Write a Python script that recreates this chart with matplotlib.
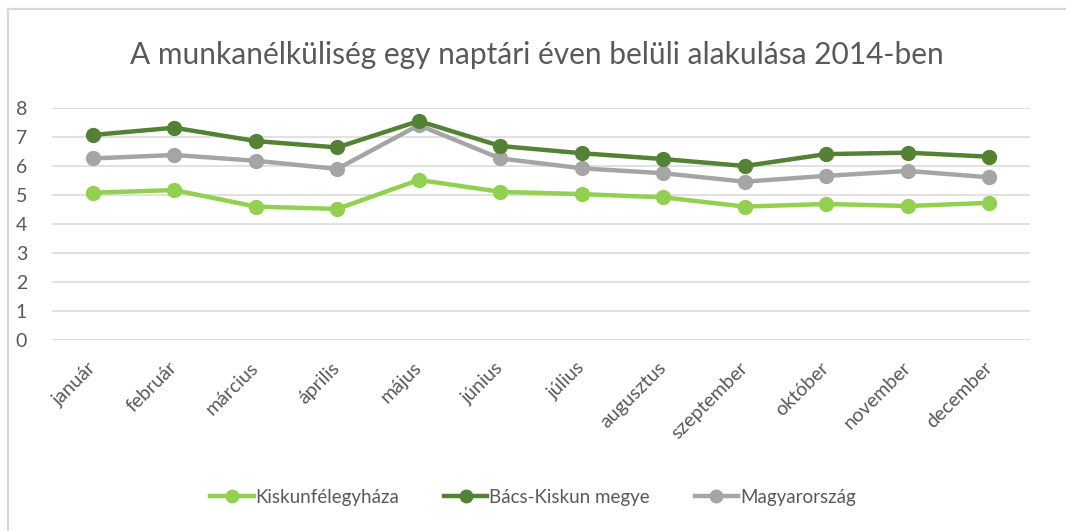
import matplotlib
matplotlib.use('Agg')
import matplotlib.pyplot as plt
from matplotlib.lines import Line2D

months = ['január', 'február', 'március', 'április', 'május', 'június',
          'július', 'augusztus', 'szeptember', 'október', 'november', 'december']
kiskunfelegyhaza = [5.08, 5.17, 4.60, 4.52, 5.52, 5.11, 5.03, 4.92, 4.60, 4.69, 4.62, 4.73]
bacs_kiskun = [7.07, 7.32, 6.86, 6.64, 7.55, 6.69, 6.44, 6.24, 6.00, 6.41, 6.46, 6.32]
magyarorszag = [6.26, 6.38, 6.18, 5.90, 7.41, 6.26, 5.92, 5.75, 5.46, 5.66, 5.83, 5.61]
yticks = [0, 1, 2, 3, 4, 5, 6, 7, 8]

LIGHT = '#92D050'
DARK = '#548235'
GRAY = '#A5A5A5'
TXT = '#595959'

plt.rcParams['font.family'] = ['Lato', 'DejaVu Sans']

W, H = 1066, 531
fig = plt.figure(figsize=(W / 100, H / 100), dpi=100)
ax = fig.add_axes([52 / W, 1 - 340 / H, (1030 - 52) / W, (340 - 108) / H])

x = list(range(len(months)))
series = [(kiskunfelegyhaza, LIGHT, 'Kiskunfélegyháza'),
          (bacs_kiskun, DARK, 'Bács-Kiskun megye'),
          (magyarorszag, GRAY, 'Magyarország')]
# draw gray first so the greens sit on top like the original
for vals, col, lab in [series[2], series[0], series[1]]:
    ax.plot(x, vals, color=col, lw=3.2, marker='o', ms=10, solid_capstyle='round', zorder=3)

ax.set_xlim(-0.5, len(months) - 0.5)
ax.set_ylim(0, 8)
ax.set_yticks(yticks)
ax.set_xticks(x)
ax.set_xticklabels(months, rotation=45, ha='right', va='center', rotation_mode='anchor')
ax.tick_params(axis='x', length=0, colors=TXT, labelsize=14, pad=18)
ax.tick_params(axis='y', length=0, colors=TXT, labelsize=14, pad=22)
for lbl in ax.get_yticklabels():
    lbl.set_horizontalalignment('center')
for s in ax.spines.values():
    s.set_visible(False)
ax.grid(axis='y', color='#D9D9D9', lw=1.1)
ax.set_axisbelow(True)

fig.text(537 / W, 1 - 55 / H, 'A munkanélküliség egy naptári éven belüli alakulása 2014-ben',
         ha='center', va='center', fontsize=21.5, color=TXT)

handles = [Line2D([0], [0], color=c, lw=3.2, marker='o', ms=9) for _, c, _ in series]
fig.legend(handles, [s[2] for s in series], loc='center', bbox_to_anchor=(533 / W, 1 - 497 / H),
           ncol=3, frameon=False, fontsize=13.5, labelcolor=TXT, handlelength=2.3,
           handletextpad=0.1, columnspacing=2.4)

# chart border (top and left visible, rest cropped)
fig.add_artist(Line2D([8 / W, 1], [1 - 9 / H, 1 - 9 / H], color='#D9D9D9', lw=1.6))
fig.add_artist(Line2D([8 / W, 8 / W], [0, 1 - 9 / H], color='#D9D9D9', lw=1.6))

fig.savefig('out.png', dpi=100, facecolor='white')
